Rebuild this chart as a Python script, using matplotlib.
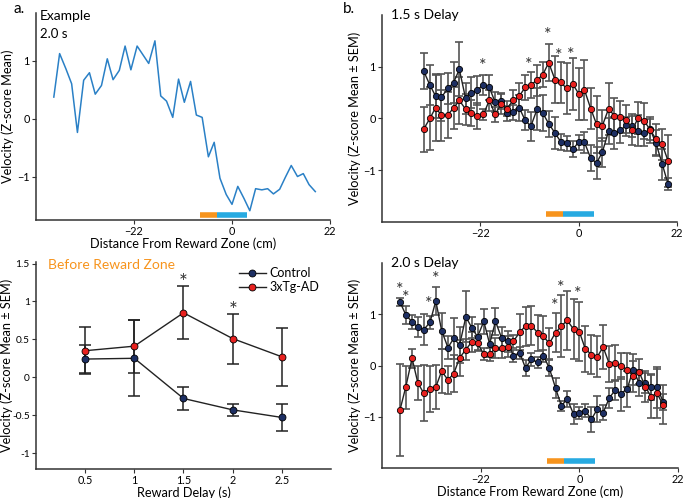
# Velocity around the reward zone: example trace, summary by delay, and 1.5 s / 2.0 s delay profiles

import matplotlib
matplotlib.use('Agg')
import matplotlib.pyplot as plt

plt.rcParams['font.family'] = ['Lato', 'DejaVu Sans']

# ---- data ----
# bin centres (cm from reward zone)
pos_ex = [-40.0, -38.7, -37.3, -36.0, -34.7, -33.3, -32.0, -30.7, -29.3, -28.0,
          -26.7, -25.3, -24.0, -22.7, -21.3, -20.0, -18.7, -17.3, -16.0, -14.7,
          -13.3, -12.0, -10.7, -9.3, -8.0, -6.7, -5.3, -4.0, -2.7, -1.3,
          0.0, 1.3, 2.7, 4.0, 5.3, 6.7, 8.0, 9.3, 10.7, 12.0,
          13.3, 14.7, 16.0, 17.3, 18.7]
vel_ex = [0.37, 1.12, 0.86, 0.60, -0.24, 0.66, 0.79, 0.42, 0.57, 1.03,
          0.67, 0.83, 1.25, 0.84, 1.25, 1.10, 0.95, 1.34, 0.39, 0.30,
          0.02, 0.68, 0.28, 0.64, 0.06, 0.02, -0.66, -0.41, -1.03, -1.31,
          -1.48, -1.17, -1.38, -1.59, -1.21, -1.23, -1.21, -1.30, -1.22, -1.01,
          -0.81, -1.00, -0.95, -1.14, -1.26]

delays = [0.5, 1, 1.5, 2, 2.5]
ctrl_delay = [0.24, 0.25, -0.28, -0.43, -0.53]
ctrl_delay_sem = [0.18, 0.50, 0.15, 0.08, 0.18]
ad_delay = [0.35, 0.41, 0.85, 0.51, 0.27]
ad_delay_sem = [0.31, 0.35, 0.35, 0.33, 0.38]

pos_15 = [-34.7, -33.3, -32.0, -30.7, -29.3, -28.0, -26.7, -25.3, -24.0, -22.7,
          -21.3, -20.0, -18.7, -17.3, -16.0, -14.7, -13.3, -12.0, -10.7, -9.3,
          -8.0, -6.7, -5.3, -4.0, -2.7, -1.3, 0.0, 1.3, 2.7, 4.0,
          5.3, 6.7, 8.0, 9.3, 10.7, 12.0, 13.3, 14.7, 16.0, 17.3,
          18.7, 20.0]
ctrl_15 = [0.92, 0.65, 0.43, 0.41, 0.58, 0.69, 0.95, 0.39, 0.50, 0.55,
           0.65, 0.60, 0.32, 0.34, 0.10, 0.12, 0.21, -0.03, -0.15, 0.18,
           0.10, -0.10, -0.28, -0.45, -0.48, -0.59, -0.46, -0.46, -0.77, -0.86,
           -0.65, -0.24, -0.28, -0.23, -0.13, -0.15, -0.24, -0.28, -0.21, -0.48,
           -0.88, -1.27]
ctrl_15_sem = [0.35, 0.39, 0.42, 0.45, 0.30, 0.40, 0.52, 0.30, 0.30, 0.28,
               0.20, 0.25, 0.20, 0.15, 0.15, 0.15, 0.25, 0.20, 0.28, 0.40,
               0.35, 0.25, 0.30, 0.15, 0.15, 0.15, 0.15, 0.20, 0.25, 0.30,
               0.28, 0.25, 0.30, 0.25, 0.15, 0.20, 0.30, 0.25, 0.20, 0.25,
               0.30, 0.12]
ad_15 = [-0.21, 0.00, 0.21, 0.06, 0.07, 0.20, 0.35, 0.18, 0.10, 0.05,
         0.08, 0.35, 0.08, 0.28, 0.19, 0.35, 0.43, 0.60, 0.65, 0.74,
         0.85, 1.08, 0.75, 0.70, 0.58, 0.66, 0.48, 0.55, 0.19, -0.11,
         -0.14, 0.19, 0.05, 0.03, -0.03, -0.22, 0.01, -0.05, -0.22, -0.40,
         -0.50, -0.82]
ad_15_sem = [0.44, 0.60, 0.65, 0.50, 0.45, 0.40, 0.45, 0.30, 0.25, 0.25,
             0.10, 0.20, 0.15, 0.20, 0.15, 0.20, 0.25, 0.25, 0.25, 0.30,
             0.25, 0.35, 0.45, 0.40, 0.50, 0.50, 0.50, 0.58, 0.40, 0.55,
             0.30, 0.50, 0.35, 0.30, 0.30, 0.30, 0.30, 0.35, 0.25, 0.30,
             0.30, 0.50]
stars_15_x = [-21.5, -11.1, -7.0, -4.4, -1.8]
stars_15_y = [1.12, 1.13, 1.71, 1.31, 1.33]

pos_20 = pos_ex
ctrl_20 = [1.24, 0.99, 0.85, 0.75, 0.70, 0.84, 1.26, 0.68, 0.35, 0.53,
           0.40, 0.95, 0.74, 0.56, 0.86, 0.42, 0.86, 0.53, 0.47, 0.19,
           0.25, -0.05, 0.12, 0.06, 0.19, -0.05, -0.44, -0.79, -0.65, -0.95,
           -0.92, -0.88, -1.05, -0.85, -0.92, -0.63, -0.48, -0.55, -0.45, -0.08,
           -0.34, -0.34, -0.42, -0.42, -0.71]
ctrl_20_sem = [0.08, 0.18, 0.14, 0.19, 0.30, 0.12, 0.27, 0.35, 0.22, 0.40,
               0.35, 0.50, 0.20, 0.25, 0.25, 0.26, 0.26, 0.22, 0.20, 0.12,
               0.12, 0.16, 0.12, 0.10, 0.12, 0.15, 0.20, 0.10, 0.16, 0.20,
               0.12, 0.12, 0.25, 0.25, 0.15, 0.20, 0.20, 0.33, 0.35, 0.30,
               0.25, 0.20, 0.25, 0.40, 0.15]
ad_20 = [-0.87, -0.42, 0.14, -0.34, -0.54, -0.45, -0.42, -0.11, -0.28, -0.16,
         0.15, 0.31, 0.46, 0.43, 0.22, 0.22, 0.34, 0.34, 0.37, 0.47,
         0.65, 0.77, 0.78, 0.64, 0.57, 0.43, 0.64, 0.77, 0.88, 0.71,
         0.66, 0.33, 0.21, 0.17, 0.36, 0.03, 0.05, -0.01, -0.08, -0.21,
         -0.12, -0.41, -0.61, -0.54, -0.77]
ad_20_sem = [0.90, 0.42, 0.18, 0.33, 0.55, 0.45, 0.43, 0.43, 0.28, 0.36,
             0.35, 0.20, 0.20, 0.15, 0.12, 0.13, 0.20, 0.20, 0.20, 0.12,
             0.35, 0.38, 0.38, 0.35, 0.40, 0.30, 0.38, 0.60, 0.58, 0.58,
             0.57, 0.45, 0.38, 0.40, 0.43, 0.35, 0.35, 0.26, 0.33, 0.30,
             0.25, 0.30, 0.42, 0.48, 0.38]
stars_20_x = [-40.1, -38.8, -33.5, -32.1, -5.5, -4.1, -0.3]
stars_20_y = [1.58, 1.41, 1.30, 1.79, 1.27, 1.61, 1.50]

# reward zone bars: before zone (orange) and zone (blue)
before_zone = [-7.2, -3.4]
reward_zone = [-3.4, 3.4]

# ---- style ----
c_ctrl = '#1d2f63'
c_ad = '#e8211f'
c_err = '#555555'
c_line = '#222222'
c_orange = '#f7941d'
c_blue = '#27aae1'
fs_tick = 7.8
fs_lab = 9.2

W, H = 685, 498
fig = plt.figure(figsize=(W / 100, H / 100), dpi=100)


def add_ax(left, top, right, bottom):
    return fig.add_axes([left / W, 1 - bottom / H, (right - left) / W, (bottom - top) / H])


def style(ax):
    for s in ['top', 'right']:
        ax.spines[s].set_visible(False)
    for s in ['left', 'bottom']:
        ax.spines[s].set_color('#333333')
        ax.spines[s].set_linewidth(1.1)
    ax.tick_params(labelsize=fs_tick, length=3, width=0.8, color='#333333', pad=1.5)


def ylabel_at(ax, text, x_px, left, width):
    # place the y label so its right edge sits at x_px (figure pixels)
    ax.set_ylabel(text, fontsize=fs_lab)
    ax.yaxis.set_label_coords((x_px - left) / width, 0.5)


def zone_bars(ax, y):
    ax.plot(before_zone, [y, y], color=c_orange, lw=4, solid_capstyle='butt')
    ax.plot(reward_zone, [y, y], color=c_blue, lw=4, solid_capstyle='butt')


def profile(ax, pos, ctrl, ctrl_sem, ad, ad_sem):
    ax.errorbar(pos, ctrl, yerr=ctrl_sem, fmt='none', ecolor=c_err, elinewidth=1.2,
                capsize=3, capthick=1.2, zorder=2)
    ax.errorbar(pos, ad, yerr=ad_sem, fmt='none', ecolor=c_err, elinewidth=1.2,
                capsize=3, capthick=1.2, zorder=2)
    ax.plot(pos, ctrl, color=c_line, lw=1, marker='o', ms=4.5, mfc=c_ctrl, mec='black',
            mew=0.6, zorder=3)
    ax.plot(pos, ad, color=c_line, lw=1, marker='o', ms=4.5, mfc=c_ad, mec='black',
            mew=0.6, zorder=4)


def stars(ax, xs, ys):
    for x, y in zip(xs, ys):
        ax.text(x, y - 0.1, '*', fontsize=13, ha='center', va='center', color='#333333')


# panel a, top: example trace
ax1 = add_ax(36, 13, 330, 220)
ax1.plot(pos_ex, vel_ex, color='#2a80c6', lw=1.1)
zone_bars(ax1, -1.66)
ax1.set_xlim(-44, 22)
ax1.set_ylim(-1.75, 1.82)
ax1.set_xticks([-22, 0, 22])
ax1.set_yticks([-1, 0, 1])
ax1.set_xlabel('Distance From Reward Zone (cm)', fontsize=fs_lab, labelpad=0)
ylabel_at(ax1, 'Velocity (Z-score Mean)', 14, 36, 294)
ax1.text(0.012, 0.985, 'Example', transform=ax1.transAxes, fontsize=10, va='center')
ax1.text(0.012, 0.9, '2.0 s', transform=ax1.transAxes, fontsize=9.5, va='center')
style(ax1)

# panel a, bottom: summary by delay
ax2 = add_ax(36, 262, 331, 469)
ax2.errorbar(delays, ctrl_delay, yerr=ctrl_delay_sem, fmt='none', ecolor=c_line,
             elinewidth=1.1, capsize=4, capthick=1.1, zorder=2)
ax2.errorbar(delays, ad_delay, yerr=ad_delay_sem, fmt='none', ecolor=c_line,
             elinewidth=1.1, capsize=4, capthick=1.1, zorder=2)
ax2.plot(delays, ctrl_delay, color=c_line, lw=1, marker='o', ms=5, mfc=c_ctrl,
         mec='black', mew=0.6, label='Control', zorder=3)
ax2.plot(delays, ad_delay, color=c_line, lw=1, marker='o', ms=5, mfc=c_ad,
         mec='black', mew=0.6, label='3xTg-AD', zorder=3)
ax2.text(1.5, 1.24, '*', fontsize=15, ha='center', va='center', color='#333333')
ax2.text(2.0, 0.88, '*', fontsize=15, ha='center', va='center', color='#333333')
ax2.set_xlim(0, 3)
ax2.set_ylim(-1.21, 1.52)
ax2.set_xticks(delays)
ax2.set_xticklabels(['0.5', '1', '1.5', '2', '2.5'])
ax2.set_yticks([-1, -0.5, 0, 0.5, 1, 1.5])
ax2.set_yticklabels(['-1', '-0.5', '0', '0.5', '1', '1.5'])
ax2.set_xlabel('Reward Delay (s)', fontsize=fs_lab, labelpad=0)
ylabel_at(ax2, 'Velocity (Z-score Mean \u00b1 SEM)', 13, 36, 295)
ax2.text(0.04, 0.985, 'Before Reward Zone', transform=ax2.transAxes, fontsize=10,
         color=c_orange, va='center')
ax2.legend(loc='upper right', bbox_to_anchor=(1.0, 1.03), frameon=False, fontsize=9,
           handlelength=2.2, handletextpad=0.3, labelspacing=0.15)
style(ax2)
ax2.tick_params(axis='y', labelsize=7.3)

# panel b, top: 1.5 s delay
ax3 = add_ax(382, 15, 677, 222)
profile(ax3, pos_15, ctrl_15, ctrl_15_sem, ad_15, ad_15_sem)
stars(ax3, stars_15_x, stars_15_y)
zone_bars(ax3, -1.85)
ax3.set_xlim(-44, 22)
ax3.set_ylim(-2, 2)
ax3.set_xticks([-22, 0, 22])
ax3.set_yticks([-1, 0, 1])
ylabel_at(ax3, 'Velocity (Z-score Mean \u00b1 SEM)', 361, 382, 295)
ax3.text(0.03, 1.0, '1.5 s Delay', transform=ax3.transAxes, fontsize=10, va='center')
style(ax3)

# panel b, bottom: 2.0 s delay
ax4 = add_ax(382, 263, 678, 468)
profile(ax4, pos_20, ctrl_20, ctrl_20_sem, ad_20, ad_20_sem)
stars(ax4, stars_20_x, stars_20_y)
zone_bars(ax4, -1.86)
ax4.set_xlim(-44, 22)
ax4.set_ylim(-2, 2)
ax4.set_xticks([-22, 0, 22])
ax4.set_yticks([-1, 0, 1])
ax4.set_xlabel('Distance From Reward Zone (cm)', fontsize=fs_lab, labelpad=0)
ylabel_at(ax4, 'Velocity (Z-score Mean \u00b1 SEM)', 361, 382, 296)
ax4.text(0.03, 1.0, '2.0 s Delay', transform=ax4.transAxes, fontsize=10, va='center')
style(ax4)

fig.text(14 / W, 1 - 9 / H, 'a.', fontsize=11, va='center')
fig.text(343 / W, 1 - 9 / H, 'b.', fontsize=11, va='center')

fig.savefig('out.png', dpi=100)
